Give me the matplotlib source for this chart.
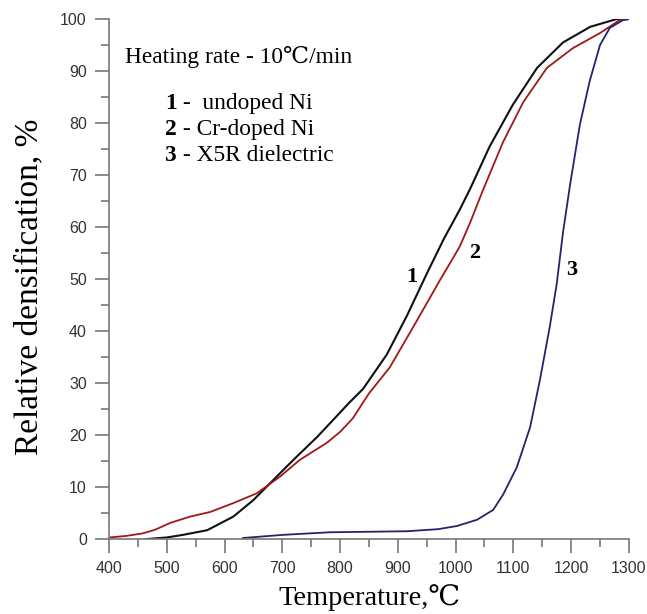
import numpy as np
import matplotlib
matplotlib.use('Agg')
import matplotlib.pyplot as plt
from matplotlib.ticker import MultipleLocator

# curve 1 - undoped Ni
t1 = [465, 500, 528, 570, 615, 650, 684, 719, 760, 788, 814, 840, 881, 916, 950, 980, 1007, 1025,
      1059, 1099, 1141, 1186, 1233, 1279, 1300]
d1 = [0.0, 0.3, 0.8, 1.7, 4.3, 7.5, 11.3, 15.2, 19.6, 22.9, 26.0, 28.9, 35.5, 43.0, 51.0, 57.8, 63.3, 67.3,
      75.5, 83.5, 90.6, 95.5, 98.5, 100.0, 100.0]
# curve 2 - Cr-doped Ni
t2 = [400, 430, 459, 480, 506, 540, 575, 615, 656, 696, 730, 777, 800, 822, 850, 886, 933, 973, 1007,
      1025, 1047, 1082, 1117, 1158, 1203, 1250, 1284, 1300]
d2 = [0.3, 0.6, 1.1, 1.8, 3.1, 4.3, 5.2, 6.9, 8.8, 12.0, 15.2, 18.5, 20.6, 23.2, 28.0, 33.0, 42.0, 49.8, 56.2,
      60.8, 67.0, 76.3, 84.0, 90.6, 94.4, 97.3, 99.8, 100.0]
# curve 3 - X5R dielectric
t3 = [632, 701, 782, 850, 916, 970, 1002, 1037, 1065, 1082, 1106, 1129, 1146, 1163, 1175, 1186, 1198,
      1215, 1232, 1250, 1267, 1290, 1300]
d3 = [0.2, 0.8, 1.3, 1.4, 1.5, 1.9, 2.5, 3.7, 5.6, 8.5, 13.8, 21.5, 30.6, 40.8, 49.0, 59.0, 68.0,
      79.6, 88.0, 95.0, 98.3, 99.8, 100.0]

legend_lines = [('1', ' -  undoped Ni'), ('2', ' - Cr-doped Ni'), ('3', ' - X5R dielectric')]
serif = ['Liberation Serif', 'DejaVu Serif']
sans = ['Liberation Sans', 'DejaVu Sans']

fig = plt.figure(figsize=(6.47, 6.14), dpi=100)
ax = fig.add_axes([0.1685, 0.1221, 0.8035, 0.8469])

ax.plot(t1, d1, color='#111111', lw=1.5)
ax.plot(t2, d2, color='#a01818', lw=1.3)
ax.plot(t3, d3, color='#24246e', lw=1.3)

ax.set_xlim(400, 1300)
ax.set_ylim(0, 100)
ax.xaxis.set_major_locator(MultipleLocator(100))
ax.xaxis.set_minor_locator(MultipleLocator(50))
ax.yaxis.set_major_locator(MultipleLocator(10))
ax.yaxis.set_minor_locator(MultipleLocator(5))
for s in ('top', 'right'):
    ax.spines[s].set_visible(False)
for s in ('left', 'bottom'):
    ax.spines[s].set_color('#777777')
    ax.spines[s].set_linewidth(1.2)
ax.tick_params(which='major', length=10, width=1.2, color='#777777', labelsize=11.5, labelcolor='#333333', pad=6)
ax.tick_params(which='minor', length=6, width=1.2, color='#777777')
ax.set_xticklabels(ax.get_xticks().astype(int), family=sans)
ax.set_yticklabels(ax.get_yticks().astype(int), family=sans)

ax.set_xlabel('Temperature,\u2103', family=serif, fontsize=20.5)
ax.set_ylabel('Relative densification, %', family=serif, fontsize=24)
ax.xaxis.set_label_coords(0.502, -0.086)
ax.yaxis.set_label_coords(-0.125, 0.485)

ax.text(428, 92.7, 'Heating rate - 10\u2103/min', family=serif, fontsize=16.8, va='center')
for i, (num, txt) in enumerate(legend_lines):
    y = 83.7 - i * 4.95
    t = ax.text(497, y, num, family=serif, fontsize=16.8, fontweight='bold', va='center')
    ax.annotate(txt, xy=(1, 0.5), xycoords=t, family=serif, fontsize=16.8, va='center')

ax.text(924, 50.4, '1', family=serif, fontsize=16, fontweight='bold', ha='center', va='center')
ax.text(1033, 55, '2', family=serif, fontsize=16, fontweight='bold', ha='center', va='center')
ax.text(1201, 51.7, '3', family=serif, fontsize=16, fontweight='bold', ha='center', va='center')

fig.savefig('out.png', dpi=100)
